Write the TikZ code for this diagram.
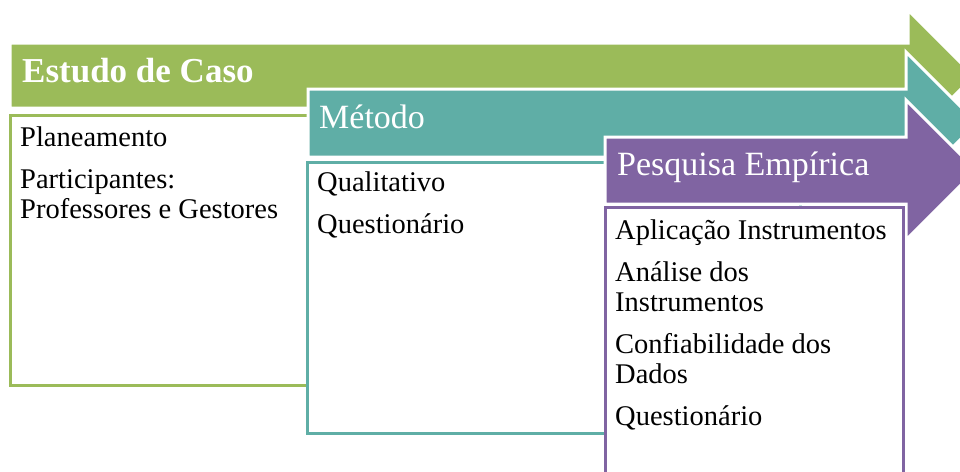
\documentclass[tikz,border=0pt]{standalone}
\usepackage{fontspec}
\setmainfont{Liberation Serif}

\begin{document}
\begin{tikzpicture}[x=1pt,y=-1pt,
    arrowshape/.style={draw=white,line width=3pt,line join=miter},
    listbox/.style={fill=white,line width=3pt},
    heading/.style={anchor=base west,inner sep=0pt,text=white,font=\fontsize{34}{40}\selectfont},
    items/.style={anchor=base west,inner sep=0pt,align=left,font=\fontsize{28.5}{30}\selectfont}]
  \def\gap{\\[12pt]}

  \definecolor{caso}{RGB}{155,187,89}
  \definecolor{metodo}{RGB}{95,174,166}
  \definecolor{pesquisa}{RGB}{128,100,162}

  \useasboundingbox (0,0) rectangle (960,471);

  % Estudo de Caso
  \path[arrowshape,fill=caso] (10,43) -- (908,43) -- (908,10) -- (974,76)
    -- (908,142) -- (908,108) -- (10,108) -- cycle;
  \draw[listbox,draw=caso] (10,115) rectangle (700,385);
  \node[heading,font=\fontsize{35}{40}\selectfont\bfseries] (caso) at (22,82) {Estudo de Caso};
  % base of a multi-line node is its last line
  \node[items] (casoitems) at (20,218)
    {Planeamento\gap Participantes:\\Professores e Gestores};

  % Metodo
  \path[arrowshape,fill=metodo] (308,89) -- (906,89) -- (906,52) -- (977,123)
    -- (906,194) -- (906,157) -- (308,157) -- cycle;
  \draw[listbox,draw=metodo] (307,162) rectangle (800,433);
  \node[heading] (metodo) at (319,128) {Método};
  \node[items] (metodoitems) at (317,233) {Qualitativo\gap Questionário};

  % Pesquisa Empirica
  \path[arrowshape,fill=pesquisa] (605,137) -- (906,137) -- (906,100) -- (976,170)
    -- (906,240) -- (906,204) -- (605,204) -- cycle;
  \draw[listbox,draw=pesquisa] (605,207) rectangle (903,500);
  \node[heading] (pesquisa) at (617,175) {Pesquisa Empírica};
  \node[items] (pesquisaitems) at (615,425)
    {Aplicação Instrumentos\gap Análise dos\\Instrumentos\gap
     Confiabilidade dos\\Dados\gap Questionário};
\end{tikzpicture}
\end{document}
